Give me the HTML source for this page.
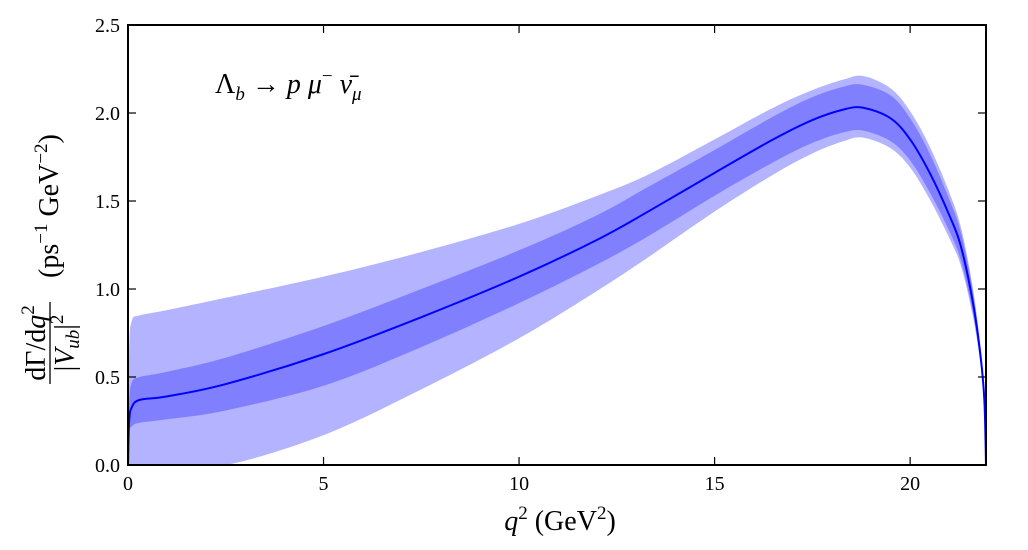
<!DOCTYPE html>
<html><head><meta charset="utf-8"><style>
html,body{margin:0;padding:0;background:#fff;}
svg{display:block;font-family:"Liberation Serif",serif;}
</style></head><body>
<svg id="chart" width="1028" height="550" viewBox="0 0 1028 550" xmlns="http://www.w3.org/2000/svg">
<g id="bands"></g>
<g id="axes"></g>
<text x="215" y="93" font-size="28">Λ<tspan font-size="19" dy="7" font-style="italic">b</tspan><tspan dy="-7"> → </tspan><tspan font-style="italic">p μ</tspan><tspan font-size="19" dy="-11">−</tspan><tspan dy="11" font-style="italic"> ν̄</tspan><tspan font-size="19" dy="7" font-style="italic">μ</tspan></text>
<text x="560" y="530" font-size="28" text-anchor="middle"><tspan font-style="italic">q</tspan><tspan font-size="19" dy="-11">2</tspan><tspan dy="11">  (GeV</tspan><tspan font-size="19" dy="-11">2</tspan><tspan dy="11">)</tspan></text>
<g transform="translate(50,0) rotate(-90)">
  <text x="-343" y="-5" font-size="28" text-anchor="middle">dΓ/d<tspan font-style="italic">q</tspan><tspan font-size="19" dy="-11">2</tspan></text>
  <line x1="-384" y1="0" x2="-302" y2="0" stroke="#000" stroke-width="1.3"/>
  <text x="-343" y="24" font-size="28" text-anchor="middle">|<tspan font-style="italic">V</tspan><tspan font-size="19" dy="5" font-style="italic">ub</tspan><tspan dy="-5">|</tspan><tspan font-size="19" dy="-11">2</tspan></text>
  <text x="-278" y="8" font-size="28">(ps<tspan font-size="19" dy="-11">−1</tspan><tspan dy="11"> GeV</tspan><tspan font-size="19" dy="-11">−2</tspan><tspan dy="11">)</tspan></text>
</g>
</svg>
<script>
const q    = [0, 0.03,0.1, 0.3, 1,   2.5, 5,   7.5, 10,  12,  13.3,15,  16.5,17.5,18.3,18.8,19.5,20,  20.5,21,  21.3,21.6,21.8,21.9,21.94];
const mid  = [0, 0.25,0.33,0.37,0.39,0.46,0.63,0.84,1.07,1.28,1.44,1.66,1.85,1.96,2.02,2.03,1.97,1.85,1.66,1.42,1.24,0.93,0.62,0.36,0];
const lo1  = [0, 0.18,0.22,0.24,0.26,0.31,0.45,0.67,0.92,1.14,1.30,1.53,1.72,1.83,1.89,1.90,1.84,1.73,1.55,1.33,1.16,0.87,0.58,0.34,0];
const hi1  = [0, 0.35,0.47,0.50,0.53,0.61,0.79,1.00,1.22,1.42,1.58,1.79,1.98,2.09,2.15,2.16,2.10,1.97,1.77,1.51,1.32,0.99,0.66,0.38,0];
const lo2  = [0, 0,   0,   0,   0,   0.0, 0.17,0.43,0.72,0.99,1.18,1.44,1.65,1.77,1.84,1.86,1.80,1.69,1.51,1.29,1.13,0.85,0.57,0.33,0];
const hi2  = [0, 0.65,0.82,0.85,0.88,0.95,1.07,1.21,1.37,1.53,1.65,1.85,2.03,2.13,2.19,2.21,2.14,2.01,1.81,1.55,1.35,1.01,0.67,0.39,0];
const xTicks = [0,5,10,15,20];
const yTicks = [0.0,0.5,1.0,1.5,2.0,2.5];
const xTickLabels = ["0","5","10","15","20"];
const yTickLabels = ["0.0","0.5","1.0","1.5","2.0","2.5"];

const L=128,R=986,T=25,B=465,XMAX=21.94,YMAX=2.5;
const sx=v=>L+v/XMAX*(R-L);
const sy=v=>B-v/YMAX*(B-T);
const NS="http://www.w3.org/2000/svg";
function pts(arr){return q.map((v,i)=>[sx(v),sy(arr[i])]);}
function spline(p,move){
  let d=(move?"M":"L")+p[0][0].toFixed(2)+","+p[0][1].toFixed(2);
  for(let i=0;i<p.length-1;i++){
    const p0=p[Math.max(0,i-1)],p1=p[i],p2=p[i+1],p3=p[Math.min(p.length-1,i+2)];
    let c1=[p1[0]+(p2[0]-p0[0])/6,p1[1]+(p2[1]-p0[1])/6];
    let c2=[p2[0]-(p3[0]-p1[0])/6,p2[1]-(p3[1]-p1[1])/6];
    c1[1]=Math.min(c1[1],B);c2[1]=Math.min(c2[1],B);
    c1[0]=Math.min(c1[0],R);c2[0]=Math.min(c2[0],R);
    d+="C"+c1.map(n=>n.toFixed(2)).join(",")+" "+c2.map(n=>n.toFixed(2)).join(",")+" "+p2[0].toFixed(2)+","+p2[1].toFixed(2);
  }
  return d;
}
function band(lo,hi,fill,name){
  const d=spline(pts(hi),true)+spline(pts(lo).reverse(),false)+"Z";
  const p=document.createElementNS(NS,"path");
  p.setAttribute("d",d);p.setAttribute("fill",fill);
  
  
  document.getElementById("bands").appendChild(p);
}
band(lo2,hi2,"#b3b3ff","outer-uncertainty-band");
band(lo1,hi1,"#8080ff","inner-uncertainty-band");
const line=document.createElementNS(NS,"path");
line.setAttribute("d",spline(pts(mid),true));
line.setAttribute("fill","none");line.setAttribute("stroke","#0000ff");line.setAttribute("stroke-width","2");


document.getElementById("bands").appendChild(line);

const ax=document.getElementById("axes");
const frame=document.createElementNS(NS,"rect");
frame.setAttribute("x",L);frame.setAttribute("y",T);frame.setAttribute("width",R-L);frame.setAttribute("height",B-T);
frame.setAttribute("fill","none");frame.setAttribute("stroke","#000");frame.setAttribute("stroke-width","2");


ax.appendChild(frame);
function ln(x1,y1,x2,y2){const l=document.createElementNS(NS,"line");l.setAttribute("x1",x1);l.setAttribute("y1",y1);l.setAttribute("x2",x2);l.setAttribute("y2",y2);l.setAttribute("stroke","#000");l.setAttribute("stroke-width","1.2");return l;}
xTicks.forEach((v,i)=>{
  const x=sx(v);
  const t1=ln(x,B,x,B-8);
  
  
  ax.appendChild(t1);
  const t2=ln(x,T,x,T+8);
  
  
  ax.appendChild(t2);
  const tx=document.createElementNS(NS,"text");
  tx.setAttribute("x",x);tx.setAttribute("y",B+25);tx.setAttribute("font-size","20");tx.setAttribute("text-anchor","middle");
  tx.textContent=xTickLabels[i];
  
  
  ax.appendChild(tx);
});
yTicks.forEach((v,i)=>{
  const y=sy(v);
  const t1=ln(L,y,L+8,y);
  
  
  ax.appendChild(t1);
  const t2=ln(R,y,R-8,y);
  
  
  ax.appendChild(t2);
  const tx=document.createElementNS(NS,"text");
  tx.setAttribute("x",L-8);tx.setAttribute("y",y+7);tx.setAttribute("font-size","20");tx.setAttribute("text-anchor","end");
  tx.textContent=yTickLabels[i];
  
  
  ax.appendChild(tx);
});
</script>
</body></html>
